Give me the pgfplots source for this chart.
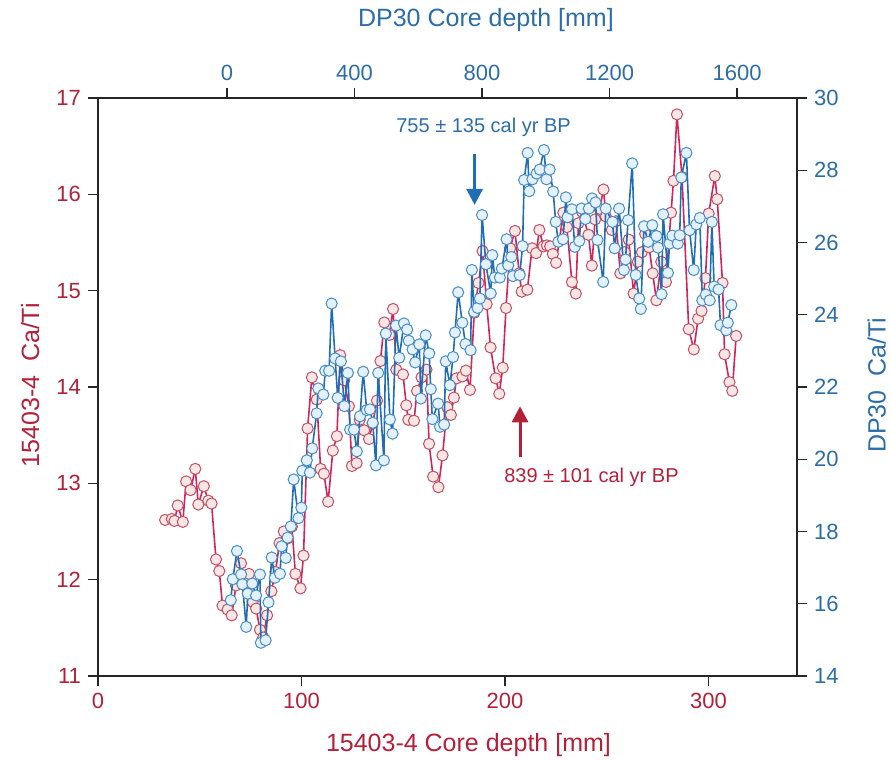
\documentclass[border=0pt]{standalone}
\usepackage{fontspec}
\setmainfont{Liberation Sans}
\usepackage{pgfplots}
\pgfplotsset{compat=1.18}
\usetikzlibrary{arrows.meta}
\definecolor{redlab}{HTML}{B2203A}
\definecolor{redline}{HTML}{D0245A}
\definecolor{redmark}{HTML}{C25062}
\definecolor{redfill}{HTML}{F7E6E6}
\definecolor{bluelab}{HTML}{2C6DA8}
\definecolor{blueline}{HTML}{1F6DB5}
\definecolor{bluemark}{HTML}{4A8CC4}
\definecolor{bluefill}{HTML}{E3F1FA}
\begin{document}
\begin{tikzpicture}
\pgfplotsset{
  common/.style={
    at={(0,0)}, anchor=south west,
    width=349.5pt, height=289pt, scale only axis,
    axis line style={line width=0.8pt, black!85, -},
    x axis line style={-}, y axis line style={-},
    tick align=outside, major tick length=5pt,
    tick style={line width=0.7pt, black!85},
    minor tick num=0,
    /pgf/number format/assume math mode=true,
    /pgf/number format/1000 sep={},
    label style={font=\fontsize{12.5}{15}\selectfont},
    ticklabel style={font=\fontsize{11}{13}\selectfont},
  }
}
\begin{axis}[common,
  xmin=0, xmax=343.5, ymin=11, ymax=17,
  axis x line*=bottom, axis y line*=left,
  xtick={0,100,200,300}, ytick={11,12,13,14,15,16,17},
  ticklabel style={text=redlab},
  xlabel={15403-4 Core depth [mm]},
  ylabel={15403-4\hspace{0.55em}Ca/Ti},
  xlabel style={text=redlab, at={(axis description cs:0.53,-0.119)}, anchor=center},
  ylabel style={text=redlab, at={(axis description cs:-0.097,0.503)}, anchor=center},
]
\addplot[color=redline, line width=0.8pt, mark=*, mark size=2.8pt,
  mark options={fill=redfill, draw=redmark, line width=0.5pt}] table[row sep=\\] {
x y\\
33.0 12.62\\ 36.3 12.63\\ 37.6 12.61\\ 39.2 12.77\\ 41.7 12.60\\ 43.3 13.02\\
45.5 12.93\\ 47.8 13.15\\ 49.3 12.78\\ 52.0 12.97\\ 54.2 12.82\\ 55.8 12.79\\
58.0 12.21\\ 59.6 12.09\\ 61.2 11.73\\ 63.7 11.69\\ 65.7 11.63\\ 67.8 11.94\\
70.3 12.17\\ 72.3 11.97\\ 74.2 12.06\\ 76.0 11.77\\ 77.7 11.70\\ 79.6 11.48\\
81.2 11.40\\ 83.1 11.63\\ 85.2 11.88\\ 87.2 12.08\\ 89.2 12.38\\ 91.3 12.50\\
93.4 12.43\\ 95.3 12.55\\ 97.0 12.06\\ 99.5 11.91\\ 101.0 12.25\\ 103.0 13.57\\
105.1 14.10\\ 107.5 13.87\\ 109.4 13.15\\ 111.0 13.10\\ 113.1 12.81\\ 115.4 13.34\\
117.4 13.49\\ 119.0 14.33\\ 121.0 14.07\\ 123.3 13.80\\ 124.8 13.18\\ 127.1 13.21\\
128.6 13.66\\ 130.8 13.55\\ 133.2 13.46\\ 135.0 13.62\\ 137.1 13.86\\ 138.8 14.27\\
140.7 14.67\\ 143.2 14.54\\ 145.0 14.81\\ 146.6 14.18\\ 149.9 14.13\\ 151.5 13.81\\
152.5 13.66\\ 155.3 13.65\\ 156.8 13.96\\ 159.0 14.10\\ 161.4 14.18\\ 162.7 13.41\\
164.7 13.07\\ 167.3 12.96\\ 169.3 13.29\\ 171.6 13.79\\ 173.4 13.71\\ 174.9 13.89\\
176.2 14.09\\ 179.1 14.11\\ 180.8 14.17\\ 182.8 13.97\\ 184.9 14.77\\ 187.0 15.08\\
189.0 15.41\\ 191.0 14.86\\ 192.9 14.41\\ 195.4 14.09\\ 197.2 13.93\\ 198.9 14.20\\
200.5 14.82\\ 202.5 15.44\\ 204.9 15.62\\ 207.0 15.18\\ 208.2 14.99\\ 211.0 15.01\\
213.3 15.44\\ 215.3 15.39\\ 216.9 15.63\\ 218.9 15.46\\ 220.6 15.47\\ 222.2 15.46\\
223.5 15.38\\ 225.1 15.29\\ 228.7 15.81\\ 230.4 15.66\\ 232.9 15.09\\ 234.8 14.97\\
236.1 15.70\\ 237.8 15.82\\ 241.0 15.58\\ 242.7 15.26\\ 244.3 15.74\\ 246.5 15.85\\
248.4 16.05\\ 249.6 15.77\\ 252.5 15.63\\ 254.5 15.72\\ 256.7 15.18\\ 258.8 15.40\\
260.8 15.53\\ 263.2 14.97\\ 265.3 15.30\\ 267.3 15.40\\ 268.9 15.59\\ 270.8 15.45\\
272.6 15.18\\ 274.4 14.90\\ 276.8 15.30\\ 279.1 15.09\\ 281.6 15.81\\ 282.8 16.14\\
284.5 16.83\\ 287.0 16.18\\ 290.3 14.60\\ 292.8 14.39\\ 294.9 14.71\\ 296.6 14.79\\
298.5 15.13\\ 300.1 15.80\\ 303.1 16.19\\ 304.3 15.95\\ 306.9 15.08\\ 307.9 14.34\\
310.3 14.05\\ 311.7 13.96\\ 313.6 14.53\\
};
\draw[redlab, line width=1.5pt, -{Triangle[width=8pt,length=8pt]}] (axis cs:207.4,13.27) -- (axis cs:207.4,13.80);
\node[text=redlab, font=\fontsize{10}{12}\selectfont] at (axis cs:242.5,13.06) {839 ± 101 cal yr BP};
\end{axis}
\begin{axis}[common,
  xmin=-405, xmax=1788, ymin=14, ymax=30,
  axis x line*=top, axis y line*=right,
  xtick={0,400,800,1200,1600}, ytick={14,16,18,20,22,24,26,28,30},
  ticklabel style={text=bluelab},
  xlabel={DP30 Core depth [mm]},
  ylabel={DP30\hspace{0.55em}Ca/Ti},
  xlabel style={text=bluelab, at={(axis description cs:0.555,1.135)}, anchor=center},
  ylabel style={text=bluelab, at={(axis description cs:1.114,0.503)}, anchor=center, rotate=0},
]
\addplot[color=blueline, line width=0.8pt, mark=*, mark size=2.8pt,
  mark options={fill=bluefill, draw=bluemark, line width=0.5pt}] table[row sep=\\] {
x y\\
11.5 16.10\\ 18 16.68\\ 31 17.46\\ 44 16.81\\ 48 16.54\\ 60 15.36\\
65 16.28\\ 79 16.56\\ 91 16.23\\ 103 16.81\\ 106 14.92\\ 121 14.99\\
130 16.04\\ 140 17.28\\ 150 16.72\\ 166 16.83\\ 171 17.59\\ 184 17.27\\
190 17.83\\ 200 18.14\\ 209 19.44\\ 224 18.37\\ 233 18.66\\ 236 19.68\\
250 19.97\\ 260 19.63\\ 267 20.30\\ 281 21.27\\ 286 21.96\\ 302 21.79\\
308 22.45\\ 320 22.45\\ 328 24.31\\ 339 22.79\\ 347 21.70\\ 357 22.71\\
368 21.47\\ 379 22.39\\ 386 20.82\\ 398 20.82\\ 407 20.22\\ 417 21.19\\
427 22.42\\ 438 21.36\\ 448 21.38\\ 457 21.01\\ 467 19.83\\ 474 22.39\\
492 19.97\\ 498 23.48\\ 511 21.10\\ 519 20.71\\ 530 23.70\\ 540 22.81\\
555 23.76\\ 565 23.59\\ 570 23.28\\ 582 23.04\\ 590 22.68\\ 603 23.18\\
608 21.68\\ 623 23.43\\ 634 22.93\\ 639 21.94\\ 644 21.11\\ 662 21.54\\
668 20.90\\ 681 20.96\\ 686 22.71\\ 699 22.05\\ 709 22.83\\ 715 23.51\\
725 24.62\\ 738 23.78\\ 748 23.19\\ 764 23.02\\ 768 25.24\\ 775 24.08\\
786 24.19\\ 793 24.45\\ 800 26.76\\ 812 25.40\\ 827 24.59\\ 832 25.65\\
840 25.03\\ 856 25.03\\ 862 25.28\\ 877 26.09\\ 882 25.37\\ 892 25.60\\
897 25.07\\ 918 25.10\\ 927 25.90\\ 932 27.73\\ 943 28.48\\ 948 27.42\\
958 27.75\\ 971 27.91\\ 981 28.02\\ 994 28.56\\ 1002 27.75\\ 1012 28.02\\
1023 27.41\\ 1031 26.57\\ 1039 26.02\\ 1054 26.09\\ 1063 27.25\\ 1068 26.70\\
1082 26.92\\ 1091 25.88\\ 1105 26.04\\ 1112 26.94\\ 1124 26.65\\ 1135 26.94\\
1145 27.22\\ 1156 27.11\\ 1162 26.07\\ 1180 24.91\\ 1188 26.94\\ 1209 26.57\\
1216 25.84\\ 1230 26.94\\ 1245 25.24\\ 1250 25.53\\ 1258 26.62\\ 1271 28.19\\
1282 25.10\\ 1293 24.45\\ 1298 24.16\\ 1308 26.45\\ 1321 26.02\\ 1334 26.48\\
1347 26.18\\ 1352 25.86\\ 1363 24.57\\ 1368 26.78\\ 1383 25.16\\ 1388 25.97\\
1397 26.19\\ 1414 25.97\\ 1420 26.20\\ 1425 27.80\\ 1441 28.48\\ 1451 26.34\\
1464 25.24\\ 1472 26.50\\ 1483 26.68\\ 1491 24.40\\ 1502 24.56\\ 1514 24.40\\
1521 26.57\\ 1528 24.78\\ 1542 24.70\\ 1548 23.71\\ 1566 23.57\\ 1571 23.78\\
1582 24.27\\
};
\draw[blueline, line width=1.5pt, -{Triangle[width=8pt,length=8pt]}] (axis cs:776.5,28.45) -- (axis cs:776.5,27.04);
\node[text=bluelab, font=\fontsize{10}{12}\selectfont] at (axis cs:804.7,29.2) {755 ± 135 cal yr BP};
\end{axis}
\pgfresetboundingbox
\path[use as bounding box] (-49pt,-43pt) rectangle (396.5pt,338pt);
\end{tikzpicture}
\end{document}
